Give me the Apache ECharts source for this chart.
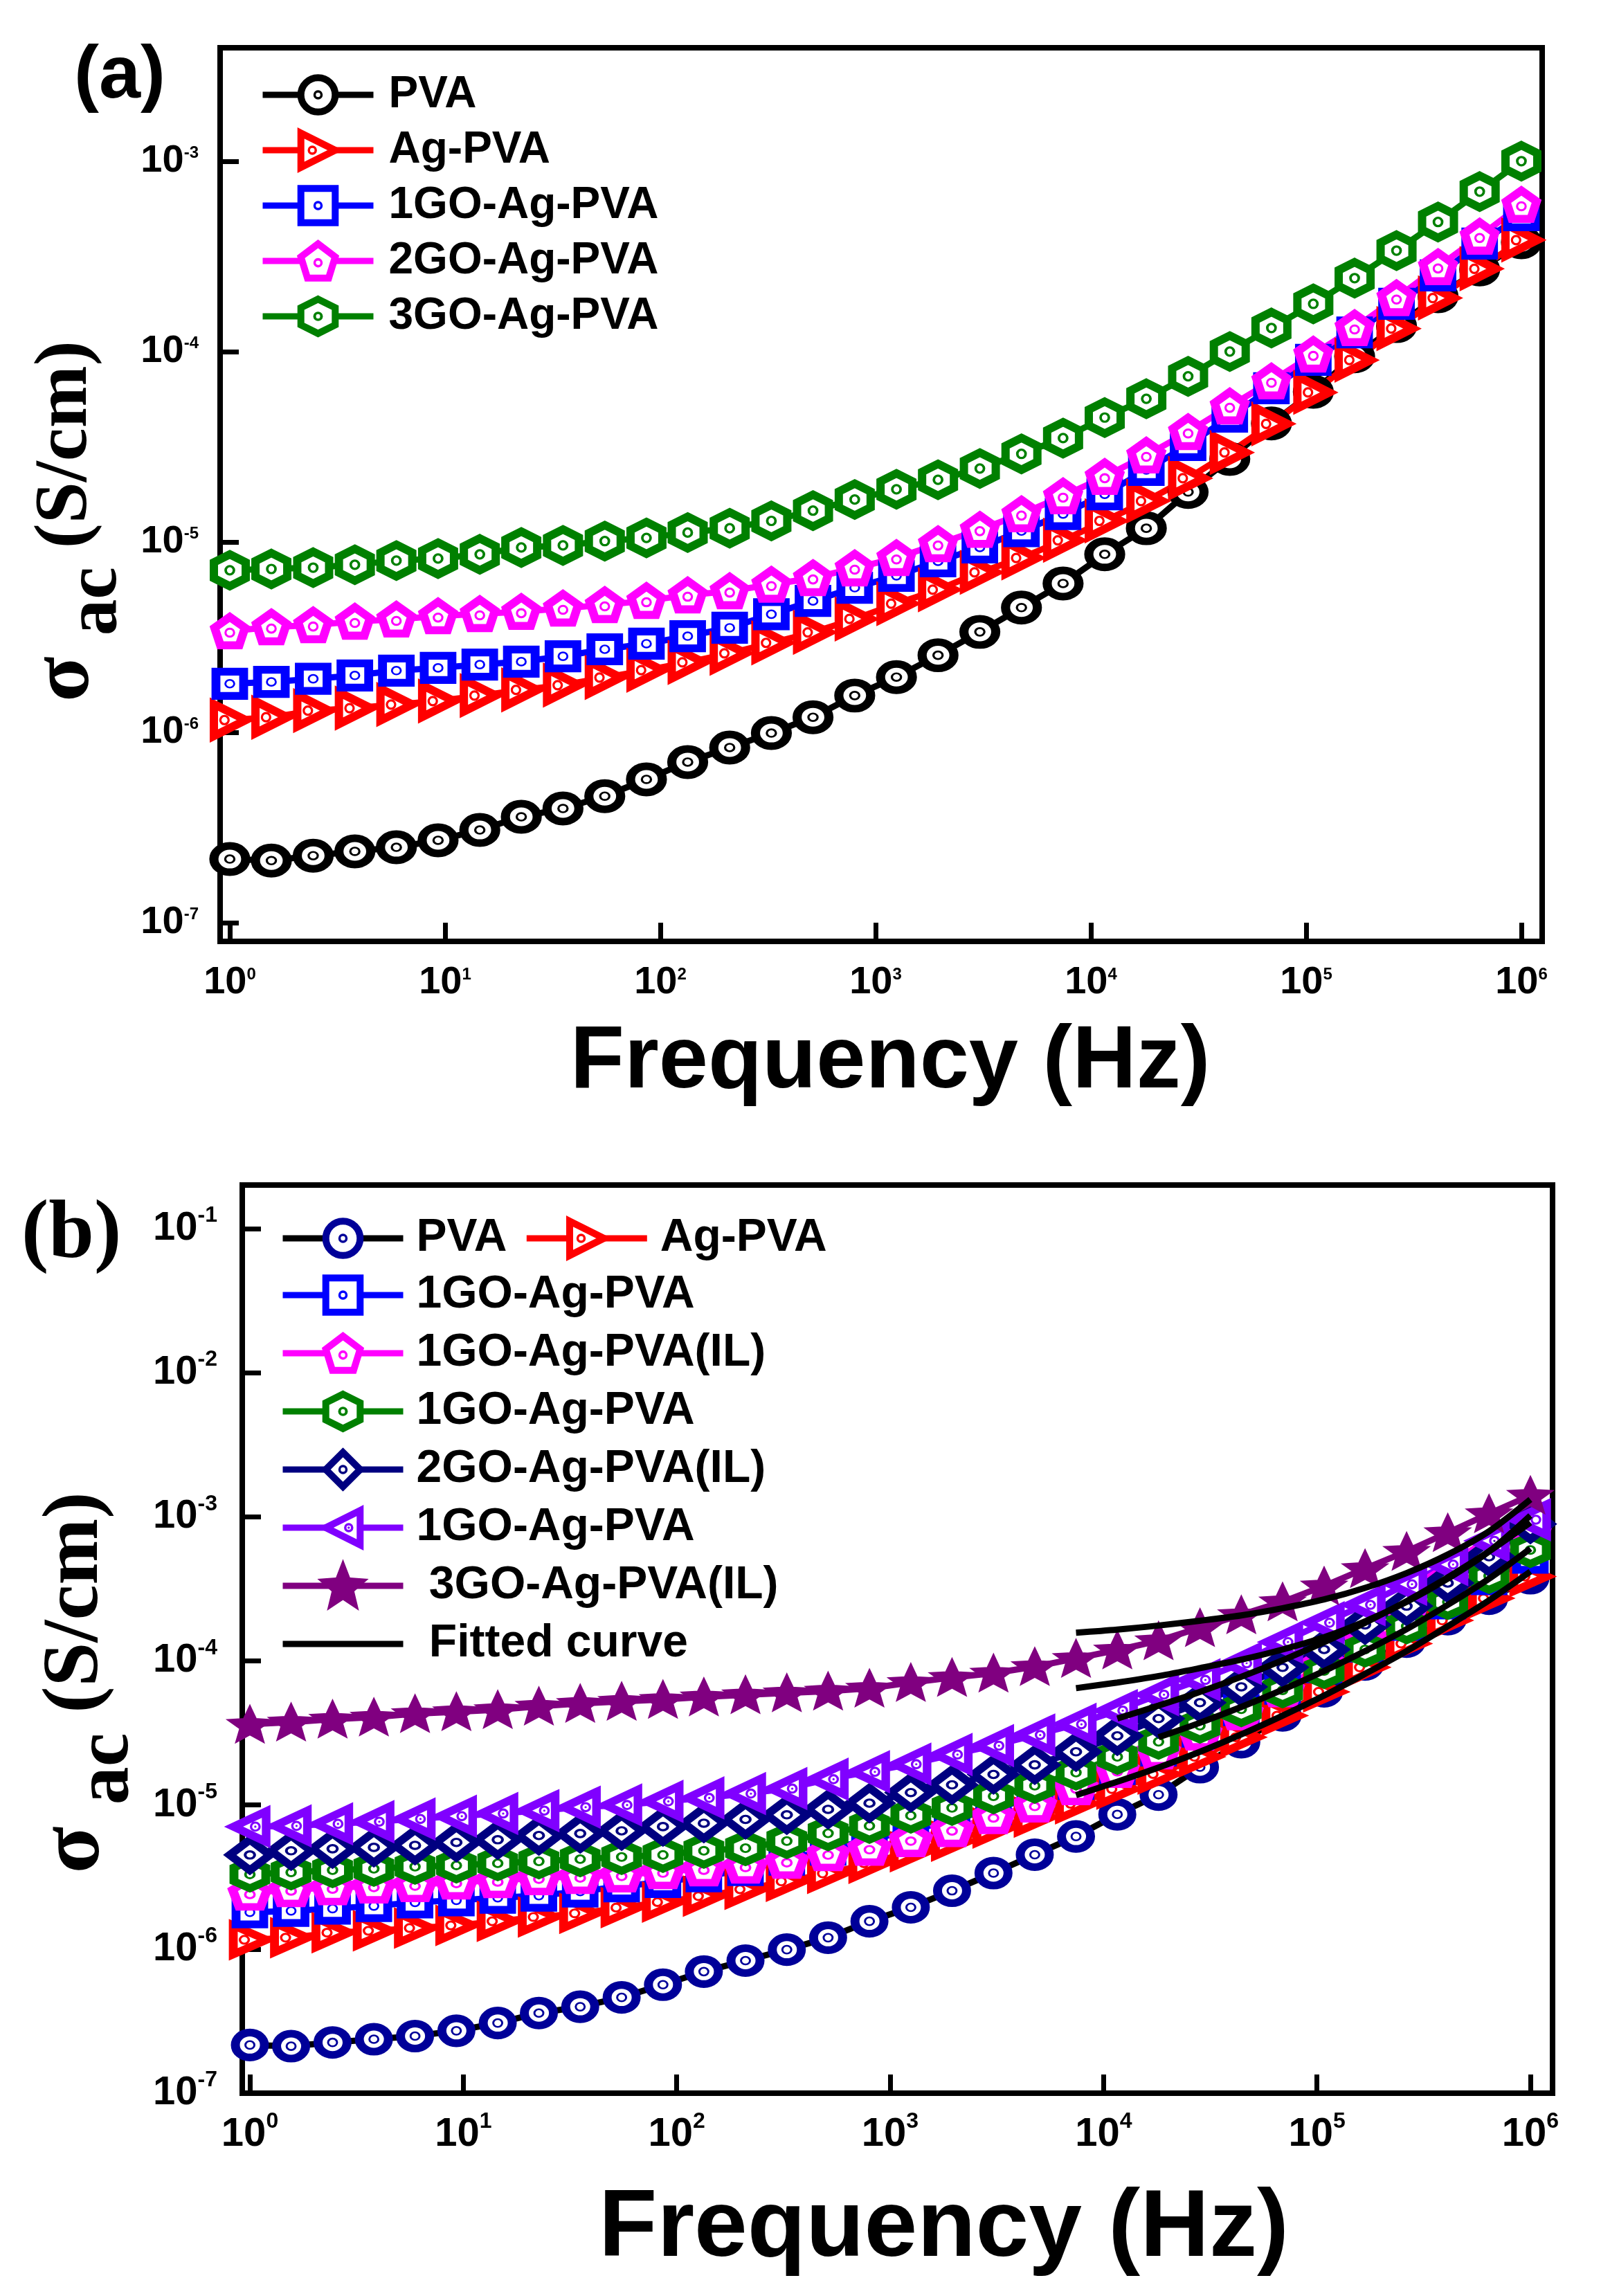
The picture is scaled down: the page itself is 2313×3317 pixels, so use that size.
<!DOCTYPE html>
<html><head><meta charset="utf-8">
<script src="https://cdn.jsdelivr.net/npm/echarts@6/dist/echarts.min.js"></script>
<style>html,body{margin:0;padding:0;background:#fff}#c{width:2313px;height:3317px}</style>
</head><body><div id="c"></div>
<script>
// ---- data ----
const freq = [1, 1.56, 2.44, 3.81, 5.94, 9.28, 14.5, 22.6, 35.3, 55.2, 86.2, 134, 210, 328, 512, 800, 1250, 1950, 3050, 4760, 7430, 11600, 18100, 28300, 44200, 69000, 108000, 168000, 263000, 410000, 640000, 1000000];

const pva = [2.16e-7, 2.12e-7, 2.25e-7, 2.37e-7, 2.49e-7, 2.71e-7, 3.07e-7, 3.6e-7, 3.98e-7, 4.62e-7, 5.66e-7, 6.98e-7, 8.32e-7, 9.91e-7, 1.2e-6, 1.56e-6, 1.95e-6, 2.54e-6, 3.37e-6, 4.52e-6, 6.05e-6, 8.61e-6, 1.18e-5, 1.83e-5, 2.73e-5, 4.19e-5, 6.15e-5, 9.44e-5, 1.36e-4, 1.95e-4, 2.7e-4, 3.75e-4];
const agPva = [1.16e-6, 1.2e-6, 1.3e-6, 1.34e-6, 1.4e-6, 1.46e-6, 1.56e-6, 1.67e-6, 1.77e-6, 1.94e-6, 2.12e-6, 2.33e-6, 2.6e-6, 2.95e-6, 3.35e-6, 3.94e-6, 4.74e-6, 5.61e-6, 6.92e-6, 8.24e-6, 1.02e-5, 1.29e-5, 1.64e-5, 2.16e-5, 2.95e-5, 4.17e-5, 6.1e-5, 9.02e-5, 1.32e-4, 1.91e-4, 2.72e-4, 3.85e-4];
const go1AgPva = [1.8e-6, 1.84e-6, 1.91e-6, 1.99e-6, 2.11e-6, 2.18e-6, 2.27e-6, 2.35e-6, 2.51e-6, 2.73e-6, 2.92e-6, 3.2e-6, 3.54e-6, 4.17e-6, 4.9e-6, 5.75e-6, 6.64e-6, 7.91e-6, 9.35e-6, 1.14e-5, 1.4e-5, 1.78e-5, 2.39e-5, 3.23e-5, 4.55e-5, 6.41e-5, 9.04e-5, 1.26e-4, 1.78e-4, 2.51e-4, 3.69e-4, 5.2e-4];
const go2AgPva = [3.4e-6, 3.57e-6, 3.66e-6, 3.82e-6, 3.92e-6, 4.08e-6, 4.19e-6, 4.3e-6, 4.48e-6, 4.67e-6, 4.91e-6, 5.25e-6, 5.52e-6, 5.97e-6, 6.47e-6, 7.28e-6, 8.24e-6, 9.75e-6, 1.16e-5, 1.4e-5, 1.74e-5, 2.2e-5, 2.85e-5, 3.78e-5, 5.16e-5, 6.98e-5, 9.66e-5, 1.33e-4, 1.91e-4, 2.78e-4, 4.02e-4, 5.9e-4];
const go3AgPva = [7.1e-6, 7.21e-6, 7.33e-6, 7.59e-6, 7.98e-6, 8.18e-6, 8.61e-6, 9.35e-6, 9.59e-6, 1.01e-5, 1.05e-5, 1.12e-5, 1.18e-5, 1.29e-5, 1.46e-5, 1.67e-5, 1.89e-5, 2.12e-5, 2.43e-5, 2.9e-5, 3.51e-5, 4.5e-5, 5.65e-5, 7.41e-5, 1.0e-4, 1.33e-4, 1.78e-4, 2.43e-4, 3.39e-4, 4.79e-4, 6.92e-4, 1.0e-3];

// panel (b) additional samples
const go1IL = [2.45e-6, 2.59e-6, 2.67e-6, 2.74e-6, 2.8e-6, 2.92e-6, 2.99e-6, 3.13e-6, 3.19e-6, 3.27e-6, 3.45e-6, 3.61e-6, 3.77e-6, 4.07e-6, 4.6e-6, 5.01e-6, 5.75e-6, 6.76e-6, 8.32e-6, 1.0e-5, 1.32e-5, 1.74e-5, 2.34e-5, 3.16e-5, 4.37e-5, 6.31e-5, 9.55e-5, 1.45e-4, 2.29e-4, 3.63e-4, 5.5e-4, 8.13e-4];
const go1AgPvaGreen = [3.3e-6, 3.41e-6, 3.53e-6, 3.61e-6, 3.73e-6, 3.81e-6, 3.94e-6, 4.07e-6, 4.21e-6, 4.36e-6, 4.5e-6, 4.81e-6, 5.02e-6, 5.62e-6, 6.37e-6, 7.16e-6, 8.45e-6, 9.55e-6, 1.15e-5, 1.36e-5, 1.68e-5, 2.16e-5, 2.75e-5, 3.55e-5, 4.62e-5, 6.25e-5, 8.51e-5, 1.2e-4, 1.74e-4, 2.57e-4, 3.89e-4, 5.89e-4];
const go2IL = [4.5e-6, 4.81e-6, 4.97e-6, 5.08e-6, 5.25e-6, 5.5e-6, 5.74e-6, 6.14e-6, 6.34e-6, 6.62e-6, 7.08e-6, 7.48e-6, 7.94e-6, 8.55e-6, 9.33e-6, 1.03e-5, 1.22e-5, 1.38e-5, 1.63e-5, 1.9e-5, 2.34e-5, 3.02e-5, 3.98e-5, 5.13e-5, 6.61e-5, 9.02e-5, 1.2e-4, 1.78e-4, 2.4e-4, 3.47e-4, 5.28e-4, 8.91e-4];
const go1AgPvaViolet = [7.08e-6, 7.16e-6, 7.4e-6, 7.66e-6, 8.0e-6, 8.36e-6, 8.73e-6, 9.14e-6, 9.66e-6, 1.0e-5, 1.06e-5, 1.12e-5, 1.2e-5, 1.3e-5, 1.51e-5, 1.7e-5, 1.92e-5, 2.24e-5, 2.58e-5, 3.06e-5, 3.63e-5, 4.52e-5, 5.83e-5, 7.38e-5, 9.62e-5, 1.35e-4, 1.84e-4, 2.45e-4, 3.4e-4, 4.66e-4, 6.81e-4, 9.55e-4];
const go3IL = [3.63e-5, 3.76e-5, 3.94e-5, 4.07e-5, 4.3e-5, 4.44e-5, 4.59e-5, 4.85e-5, 5.07e-5, 5.24e-5, 5.4e-5, 5.62e-5, 5.82e-5, 6.0e-5, 6.17e-5, 6.46e-5, 7.08e-5, 7.67e-5, 8.22e-5, 9.12e-5, 1.04e-4, 1.19e-4, 1.38e-4, 1.7e-4, 2.09e-4, 2.57e-4, 3.31e-4, 4.37e-4, 5.75e-4, 7.76e-4, 1.05e-3, 1.41e-3];

// fitted curves (frequency, conductivity)
const fit1F = [7430, 11600, 18100, 28300, 44200, 69000, 108000, 168000, 263000, 410000, 640000, 1000000];
const fit1Y = [1.57e-4, 1.65e-4, 1.76e-4, 1.9e-4, 2.07e-4, 2.32e-4, 2.67e-4, 3.21e-4, 4.07e-4, 5.47e-4, 7.94e-4, 1.32e-3];
const fit2F = [7430, 11600, 18100, 28300, 44200, 69000, 108000, 168000, 263000, 410000, 640000, 1000000];
const fit2Y = [6.47e-5, 7.08e-5, 7.85e-5, 8.91e-5, 1.02e-4, 1.2e-4, 1.46e-4, 1.88e-4, 2.57e-4, 3.72e-4, 5.75e-4, 1.02e-3];
const fit3F = [11600, 18100, 28300, 44200, 69000, 108000, 168000, 263000, 410000, 640000, 1000000];
const fit3Y = [3.98e-5, 4.9e-5, 6.1e-5, 7.76e-5, 1.01e-4, 1.35e-4, 1.84e-4, 2.6e-4, 3.8e-4, 5.75e-4, 9.12e-4];
const fit4F = [18100, 28300, 44200, 69000, 108000, 168000, 263000, 410000, 640000, 1000000];
const fit4Y = [2.95e-5, 3.72e-5, 4.79e-5, 6.31e-5, 8.51e-5, 1.17e-4, 1.66e-4, 2.45e-4, 3.72e-4, 6.03e-4];
const fit5F = [7430, 11600, 18100, 28300, 44200, 69000, 108000, 168000, 263000, 410000, 640000, 1000000];
const fit5Y = [1.17e-5, 1.45e-5, 1.82e-5, 2.34e-5, 3.09e-5, 4.17e-5, 5.75e-5, 8.13e-5, 1.17e-4, 1.74e-4, 2.63e-4, 4.17e-4];

// legend texts
const namesA = ['PVA', 'Ag-PVA', '1GO-Ag-PVA', '2GO-Ag-PVA', '3GO-Ag-PVA'];
const namesB = ['PVA (b)', 'Ag-PVA (b)', '1GO-Ag-PVA (b1)', '1GO-Ag-PVA(IL) (b)', '1GO-Ag-PVA (b2)', '2GO-Ag-PVA(IL) (b)', '1GO-Ag-PVA (b3)', '3GO-Ag-PVA(IL) (b)', 'Fitted curve'];
const labelsB = ['PVA', 'Ag-PVA', '1GO-Ag-PVA', '1GO-Ag-PVA(IL)', '1GO-Ag-PVA', '2GO-Ag-PVA(IL)', '1GO-Ag-PVA', ' 3GO-Ag-PVA(IL)', ' Fitted curve'];

// ---- styling ----
const SANS = "'Liberation Sans', Arial, sans-serif", SERIF = "'Liberation Serif', 'Times New Roman', serif";
const DOT = (cx, cy) => `M${cx},${cy - 3.5}A3.5,3.5 0 1 1 ${cx},${cy + 3.5}A3.5,3.5 0 1 1 ${cx},${cy - 3.5}Z`;
const CIRC = 'path://M50,0A50,50 0 1 1 50,100A50,50 0 1 1 50,0Z' + DOT(50, 50);
const TRI_R = 'path://M0,0L100,50L0,100Z' + DOT(33.3, 50);
const SQ = 'path://M0,0L100,0L100,100L0,100Z' + DOT(50, 50);
const PENT = 'path://M50,0L100,36.3L80.9,95.1L19.1,95.1L0,36.3Z' + DOT(50, 52.6);
const HEX = 'path://M50,0L93.3,25L93.3,75L50,100L6.7,75L6.7,25Z' + DOT(50, 50);
const DIAM = 'path://M50,0L100,50L50,100L0,50Z' + DOT(50, 50);
const TRI_L = 'path://M100,0L0,50L100,100Z' + DOT(66.7, 50);
const STAR = 'path://M50,0L62.9,32.2L97.6,34.5L70.9,56.8L79.4,90.5L50,72L20.6,90.5L29.1,56.8L2.4,34.5L37.1,32.2Z';

function pairs(xs, ys) { return xs.map((x, i) => [x, ys[i]]); }
function series(name, idx, ys, symbol, size, color, lineColor, bw, fill) {
  return {
    type: 'line', name: name, xAxisIndex: idx, yAxisIndex: idx,
    data: pairs(freq, ys), symbol: symbol, symbolSize: size, showSymbol: true, showAllSymbol: true,
    lineStyle: { color: lineColor, width: 9 },
    itemStyle: { color: fill || '#fff', borderColor: color, borderWidth: bw },
    animation: false
  };
}
function fit(xs, ys) {
  return {
    type: 'line', name: 'Fitted curve', xAxisIndex: 1, yAxisIndex: 1, data: pairs(xs, ys),
    symbol: 'none', smooth: 0.3, z: 5,
    lineStyle: { color: '#000', width: 9 }, animation: false
  };
}
function powLabel(v) {
  const e = Math.log10(v), r = Math.round(e);
  if (Math.abs(e - r) > 1e-6) return '';
  return '{b|10}{s|' + r + '}';
}
function richLab(main, sup, pad) {
  return {
    b: { fontFamily: SANS, fontWeight: 'bold', fontSize: main, lineHeight: main, color: '#000' },
    s: { fontFamily: SANS, fontWeight: 'bold', fontSize: sup, lineHeight: sup, color: '#000', padding: [0, 0, pad, 0] }
  };
}
const axLine = { show: true, onZero: false, lineStyle: { color: '#000', width: 8 } };
const axTick = { show: true, inside: true, length: 27, lineStyle: { color: '#000', width: 7 } };

function xAxis(idx, min, max, margin, rich, gap, padLeft, fs) {
  return {
    type: 'log', logBase: 10, gridIndex: idx, min: min, max: max,
    axisLine: axLine, axisTick: axTick, splitLine: { show: false }, minorTick: { show: false },
    axisLabel: { formatter: powLabel, margin: margin, rich: rich, showMinLabel: true, showMaxLabel: true },
    name: 'Frequency (Hz)', nameLocation: 'middle', nameGap: gap,
    nameTextStyle: { fontFamily: SANS, fontWeight: 'bold', fontSize: fs, lineHeight: fs, color: '#000', padding: [0, 0, 0, padLeft] }
  };
}
function yAxis(idx, min, max, margin, rich, gap, padRight, fS, fSub, fN, subPad) {
  return {
    type: 'log', logBase: 10, gridIndex: idx, min: min, max: max,
    axisLine: axLine, axisTick: axTick, splitLine: { show: false }, minorTick: { show: false },
    axisLabel: { formatter: powLabel, margin: margin, rich: rich },
    name: '{s|σ }{sub|ac}{n| (S/cm)}', nameLocation: 'middle', nameGap: gap, nameRotate: 90,
    nameTextStyle: {
      padding: [0, padRight, 0, 0],
      rich: {
        s: { fontFamily: SERIF, fontWeight: 'bold', fontSize: fS, lineHeight: fS, color: '#000' },
        sub: { fontFamily: SERIF, fontWeight: 'bold', fontSize: fSub, lineHeight: fSub, color: '#000', padding: [subPad, 0, 0, 0] },
        n: { fontFamily: SERIF, fontWeight: 'bold', fontSize: fN, lineHeight: fN, color: '#000' }
      }
    }
  };
}
const legText = (fs, padL) => ({ fontFamily: SANS, fontWeight: 'bold', fontSize: fs, lineHeight: 64, color: '#000', padding: [0, 0, 0, padL] });

const option = {
  animation: false,
  backgroundColor: '#fff',
  textStyle: { fontFamily: SANS },
  title: [
    { text: '(a)', left: 107, top: 57, padding: 0, textStyle: { fontFamily: SANS, fontWeight: 'bold', fontSize: 108, lineHeight: 108, color: '#000' } },
    { text: '(b)', left: 31, top: 1726, padding: 0, textStyle: { fontFamily: SERIF, fontWeight: 'bold', fontSize: 118, lineHeight: 118, color: '#000' } }
  ],
  grid: [
    { left: 318, top: 69, width: 1910, height: 1291, show: true, borderColor: '#000', borderWidth: 8, containLabel: false, outerBoundsMode: 'none' },
    { left: 350, top: 1712, width: 1893, height: 1312, show: true, borderColor: '#000', borderWidth: 8, containLabel: false, outerBoundsMode: 'none' }
  ],
  xAxis: [
    xAxis(0, 0.9016, 1.249e6, 32, richLab(56, 24, 23), 112, 26, 128),
    xAxis(1, 0.921, 1.27e6, 31, richLab(58, 32, 37), 128, 134, 138)
  ],
  yAxis: [
    yAxis(0, 7.98e-8, 3.94e-3, 31, richLab(56, 24, 23), 120, 77, 120, 105, 108, 88),
    yAxis(1, 1e-7, 0.2007, 36, richLab(58, 32, 37), 146, 126, 125, 110, 115, 90)
  ],
  legend: [
    { orient: 'vertical', left: 375, top: 105, padding: 0, itemWidth: 160, itemHeight: 62, itemGap: 16,
      selectedMode: false, data: namesA, textStyle: legText(64, 17), itemStyle: { borderWidth: 10 }, lineStyle: { width: 9 } },
    { orient: 'horizontal', left: 404, top: 1756, padding: 0, itemWidth: 174, itemHeight: 62, itemGap: 24,
      selectedMode: false, data: namesB.slice(0, 2), textStyle: legText(66, 14), itemStyle: { borderWidth: 10 }, lineStyle: { width: 9 },
      formatter: n => labelsB[namesB.indexOf(n)] },
    { orient: 'vertical', left: 404, top: 1838, padding: 0, itemWidth: 174, itemHeight: 62, itemGap: 18,
      selectedMode: false,
      data: namesB.slice(2, 8).concat([{ name: 'Fitted curve', itemStyle: { opacity: 0 } }]),
      textStyle: legText(66, 14), itemStyle: { borderWidth: 10 }, lineStyle: { width: 9 },
      formatter: n => labelsB[namesB.indexOf(n)] }
  ],
  series: [
    // panel (a)
    series(namesA[0], 0, pva, CIRC, [46, 38], '#000000', '#000000', 12),
    series(namesA[1], 0, agPva, TRI_R, [46, 46], '#ff0000', '#ff0000', 12),
    series(namesA[2], 0, go1AgPva, SQ, [40, 35], '#0000ff', '#0000ff', 12),
    series(namesA[3], 0, go2AgPva, PENT, [44, 41], '#ff00ff', '#ff00ff', 12),
    series(namesA[4], 0, go3AgPva, HEX, [46, 46], '#008000', '#008000', 12),
    // panel (b)
    series(namesB[0], 1, pva, CIRC, [42, 36], '#000099', '#000000', 12),
    series(namesB[1], 1, agPva, TRI_R, [48, 42], '#ff0000', '#ff0000', 12),
    series(namesB[2], 1, go1AgPva, SQ, [40, 35], '#0000ff', '#0000ff', 12),
    series(namesB[3], 1, go1IL, PENT, [50, 40], '#ff00ff', '#ff00ff', 12),
    series(namesB[4], 1, go1AgPvaGreen, HEX, [46, 40], '#008000', '#008000', 12),
    series(namesB[5], 1, go2IL, DIAM, [58, 44], '#000080', '#000080', 12),
    series(namesB[6], 1, go1AgPvaViolet, TRI_L, [47, 44], '#8000ff', '#8000ff', 12),
    series(namesB[7], 1, go3IL, STAR, [54, 44], '#800080', '#800080', 6, '#800080'),
    fit(fit1F, fit1Y), fit(fit2F, fit2Y), fit(fit3F, fit3Y), fit(fit4F, fit4Y), fit(fit5F, fit5Y)
  ]
};
const chart = echarts.init(document.getElementById('c'), null, { renderer: 'canvas' });
chart.setOption(option);
</script>
</body></html>
